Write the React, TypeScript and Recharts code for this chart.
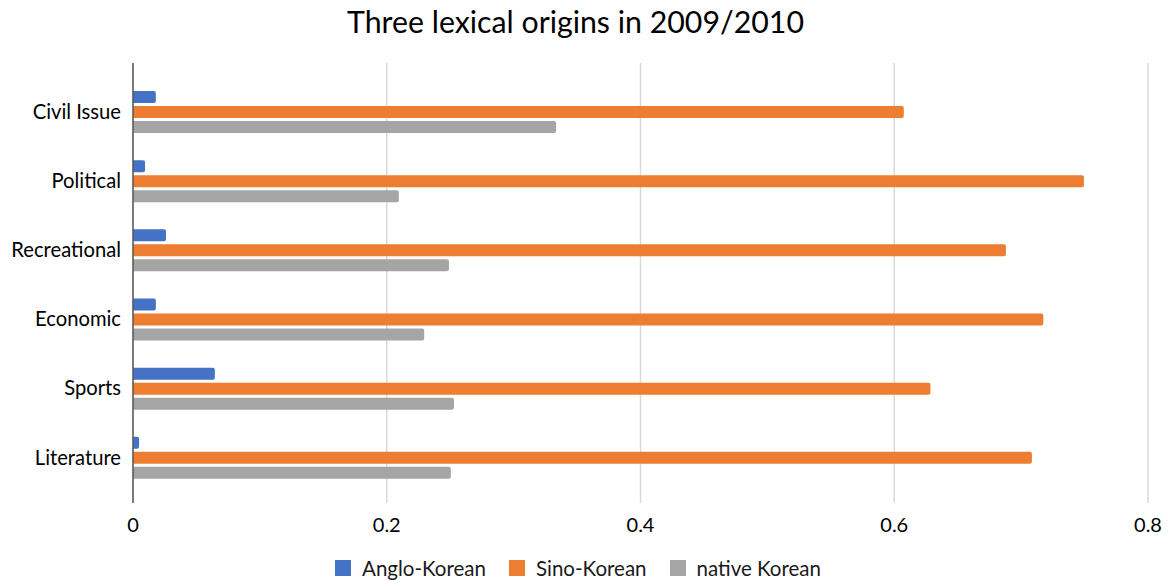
import React from 'react';
import { BarChart, Bar, XAxis, YAxis, CartesianGrid, Legend } from 'recharts';

// Share of vocabulary by lexical origin, per news section (2009/2010)
const categories = ['Civil Issue', 'Political', 'Recreational', 'Economic', 'Sports', 'Literature'];
const angloKorean = [0.018, 0.0095, 0.026, 0.018, 0.0645, 0.0048];
const sinoKorean = [0.6075, 0.7495, 0.688, 0.7175, 0.6285, 0.7085];
const nativeKorean = [0.3335, 0.2095, 0.249, 0.2295, 0.253, 0.2505];
const xTicks = [0, 0.2, 0.4, 0.6, 0.8];

const series = [
  { key: 'anglo', name: 'Anglo-Korean', color: '#4472C4', values: angloKorean },
  { key: 'sino', name: 'Sino-Korean', color: '#ED7D31', values: sinoKorean },
  { key: 'native', name: 'native Korean', color: '#A5A5A5', values: nativeKorean },
];

const data = categories.map((category, i) => {
  const row: Record<string, string | number> = { category };
  series.forEach((s) => {
    row[s.key] = s.values[i];
  });
  return row;
});

const FONT = 'Lato, "Open Sans", sans-serif';

const LegendContent = () => (
  <div
    style={{
      display: 'flex',
      justifyContent: 'center',
      alignItems: 'center',
      height: 24,
      fontFamily: FONT,
      fontSize: 20.5,
      color: '#1a1a1a',
    }}
  >
    {series.map((s, i) => (
      <div
        key={s.key}
        style={{ display: 'flex', alignItems: 'center', marginLeft: i === 0 ? 0 : 23 }}
      >
        <span
          style={{
            display: 'inline-block',
            width: 16,
            height: 16,
            background: s.color,
            marginRight: 11,
          }}
        />
        <span>{s.name}</span>
      </div>
    ))}
  </div>
);

export default function App() {
  return (
    <div
      style={{
        position: 'absolute',
        left: 0,
        top: 0,
        width: 1171,
        height: 580,
        background: '#ffffff',
        fontFamily: FONT,
      }}
    >
      <div
        style={{
          position: 'absolute',
          left: -10,
          top: 3,
          width: 1171,
          textAlign: 'center',
          fontSize: 30.3,
          color: '#000000',
        }}
      >
        Three lexical origins in 2009/2010
      </div>
      <BarChart
        width={1171}
        height={580}
        data={data}
        layout="vertical"
        margin={{ top: 63, right: 23, bottom: 0, left: 8 }}
        barSize={12}
        barGap={3}
      >
        <CartesianGrid horizontal={false} vertical stroke="#D9D9D9" strokeWidth={1.5} />
        <XAxis
          type="number"
          domain={[0, 0.8]}
          ticks={xTicks}
          tickFormatter={(v: number) => String(v)}
          axisLine={false}
          tickLine={false}
          tickSize={0}
          tickMargin={15}
          height={53}
          tick={{ fill: '#000000', fontSize: 20, fontFamily: FONT }}
        />
        <YAxis
          type="category"
          dataKey="category"
          width={125}
          padding={{ top: 14, bottom: 11 }}
          axisLine={{ stroke: '#595959', strokeWidth: 1.5 }}
          tickLine={false}
          tickSize={0}
          tickMargin={12}
          tick={{ fill: '#000000', fontSize: 20.2, fontFamily: FONT }}
        />
        <Legend verticalAlign="bottom" align="center" content={<LegendContent />} />
        {series.map((s) => (
          <Bar
            key={s.key}
            dataKey={s.key}
            name={s.name}
            fill={s.color}
            radius={[0, 2, 2, 0]}
            isAnimationActive={false}
          />
        ))}
      </BarChart>
    </div>
  );
}
